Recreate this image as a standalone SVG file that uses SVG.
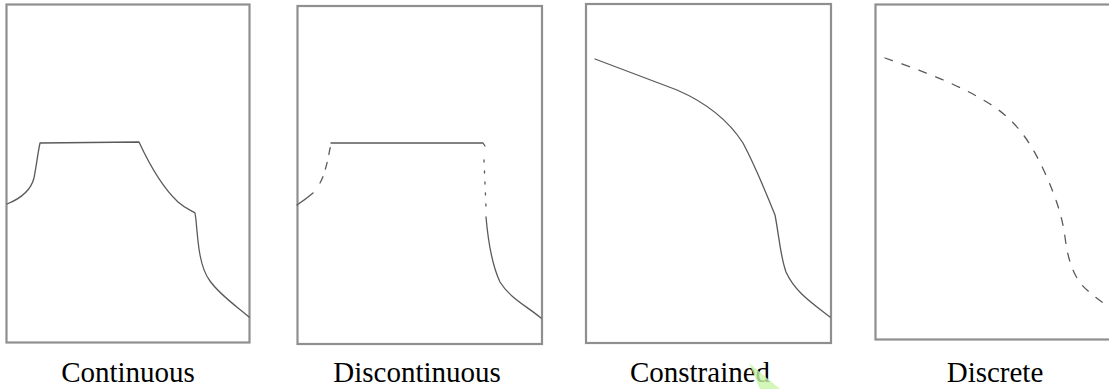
<svg xmlns="http://www.w3.org/2000/svg" width="1109" height="389" viewBox="0 0 1109 389">
<style>
.frame{fill:#fff;stroke:#8f8f8f;stroke-width:2.2}
.curve{fill:none;stroke:#5a5a5a;stroke-width:1.3;stroke-linecap:round;stroke-linejoin:round}
.dash{stroke-dasharray:8 10}
.ldash{stroke-dasharray:7 8}
.dot{stroke-dasharray:2 9}
.lbl{font-family:"Liberation Serif","Times New Roman",serif;font-size:29px;fill:#000;text-anchor:middle}
</style>
<rect width="1109" height="389" fill="#fff"/>
<g id="continuous">
<rect class="frame" x="6.5" y="4.5" width="243" height="338"/>
<path class="curve" d="M7,204 C22,198 31,190 34,178 C36,168 38,152 40,143 L139,142 C145,155 160,185 178,202 C186,209 192,211 195,213 L196,220 C198,245 200,268 210,281 C220,295 235,305 249,317"/>
<text class="lbl" x="128" y="382">Continuous</text>
</g>
<g id="discontinuous">
<rect class="frame" x="297.5" y="6" width="244.5" height="338"/>
<path class="curve" d="M297,205 Q306,199 313,193"/>
<path class="curve ldash" d="M320,183 C325,174 328,160 331,143"/>
<path class="curve" d="M331,143 L483,143 L485,146"/>
<path class="curve dot" d="M484,160 L486,207"/>
<path class="curve" d="M486,217 C488,240 492,265 500,282 C510,298 525,305 541,318"/>
<text class="lbl" x="417" y="382">Discontinuous</text>
</g>
<g id="constrained">
<rect class="frame" x="586" y="4" width="245" height="339"/>
<path class="curve" d="M595,59 L677,90 C700,100 725,115 743,143 C752,160 765,190 775,215 C779,235 780,255 786,272 C795,292 812,303 830,317"/>
<text class="lbl" x="700" y="382">Constrained</text>
</g>
<g id="discrete">
<rect class="frame" x="875.5" y="4.5" width="240" height="335"/>
<path class="curve dash" d="M885,58 C920,70 960,85 990,104 C1015,120 1030,140 1045,173 C1055,195 1062,215 1065,237 C1068,262 1075,280 1087,290 C1095,297 1103,303 1112,309"/>
<text class="lbl" x="995" y="382">Discrete</text>
</g>
<polygon points="749,363 760,389 780,389" fill="#c8f5a8" opacity="0.8"/>
</svg>
